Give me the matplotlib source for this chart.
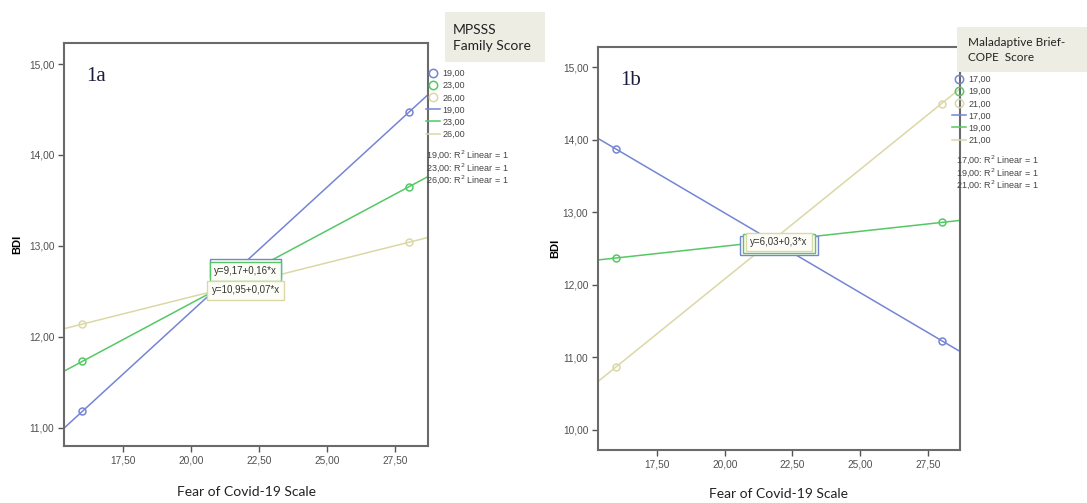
import numpy as np
import matplotlib
matplotlib.use("Agg")
import matplotlib.pyplot as plt
from matplotlib.lines import Line2D
from matplotlib.patches import Rectangle

#%% data

# Fear of Covid-19 Scale values where the estimated points sit
fcv_x = [16, 28]

# panel 1a: BDI by MPSSS family score group
mpsss_groups = ['19,00', '23,00', '26,00']
mpsss_19 = [11.18, 14.47]
mpsss_23 = [11.73, 13.65]
mpsss_26 = [12.14, 13.04]
mpsss_eq = ['y=9,17+0,16*x', 'y=9,17+0,16*x', 'y=10,95+0,07*x']

# panel 1b: BDI by maladaptive Brief-COPE score group
cope_groups = ['17,00', '19,00', '21,00']
cope_17 = [13.87, 11.23]
cope_19 = [12.37, 12.86]
cope_21 = [10.87, 14.50]
cope_eq = ['  y=6,03+0,3*x  ', ' y=6,03+0,3*x ', 'y=6,03+0,3*x']

x_ticks = [17.5, 20.0, 22.5, 25.0, 27.5]
left_yticks = [11, 12, 13, 14, 15]
right_yticks = [10, 11, 12, 13, 14, 15]

colors = ['#7585d4', '#55c865', '#dcd7a6']
tick_font = 'Liberation Sans'


def fmt(v, nd=2):
    return ('%.*f' % (nd, v)).replace('.', ',')


def draw_panel(ax, series, groups, eqs, eq_pos, eq_dy, xlim, ylim, yticks, tag, lab_xy):
    ax.set_xlim(xlim)
    ax.set_ylim(ylim)
    xs = np.array(xlim)
    for i, vals in enumerate(series):
        b, a = np.polyfit(fcv_x, vals, 1)
        ax.plot(xs, a + b * xs, color=colors[i], lw=1.1, zorder=2)
        ax.plot(fcv_x, vals, 'o', mfc='none', mec=colors[i], ms=5, mew=1.1, zorder=3)
    for i, txt in enumerate(eqs):
        ax.text(eq_pos[0], eq_pos[1] + eq_dy[i], txt, fontsize=7, family=tick_font,
                color='#333333', ha='center', va='center', zorder=5 + i,
                bbox=dict(boxstyle='square,pad=0.45', fc='#fdfdf8', ec=colors[i], lw=1))
    ax.set_xticks(x_ticks)
    ax.set_xticklabels([fmt(v) for v in x_ticks])
    ax.set_yticks(yticks)
    ax.set_yticklabels([fmt(v) for v in yticks])
    ax.tick_params(direction='out', length=4, width=1, color='#555555',
                   labelsize=7.3, labelcolor='#505050', pad=3)
    for lab in ax.get_xticklabels() + ax.get_yticklabels():
        lab.set_family(tick_font)
    for sp in ax.spines.values():
        sp.set_color('#6a6a6a')
        sp.set_linewidth(1.5)
    ax.set_ylabel('BDI', fontsize=8, fontweight='bold', family=tick_font)
    ax.set_xlabel('Fear of Covid-19 Scale', fontsize=10, family='Lato', color='#222222')
    ax.yaxis.set_label_coords(lab_xy[0], 0.5)
    ax.xaxis.set_label_coords(0.5, lab_xy[1])
    ax.xaxis.label.set_va('center')
    ax.yaxis.label.set_va('center')
    ax.text(0.06, 0.905, tag, transform=ax.transAxes, fontsize=15,
            family='Liberation Serif', color='#1c1c3c')

    # legend: open circles then lines
    handles = [Line2D([], [], ls='none', marker='o', mfc='none', mec=c, ms=6, mew=1.1)
               for c in colors]
    handles += [Line2D([], [], color=c, lw=1.1) for c in colors]
    labels = groups + groups
    return handles, labels


fig = plt.figure(figsize=(10.87, 5.03), dpi=100)
ax1 = fig.add_axes([0.0589, 0.1133, 0.335, 0.801])
ax2 = fig.add_axes([0.5501, 0.1054, 0.333, 0.801])

h1, l1 = draw_panel(ax1, [mpsss_19, mpsss_23, mpsss_26], mpsss_groups, mpsss_eq,
                    (22.0, 12.72), [0.035, 0.0, -0.21], (15.33, 28.71), (10.8, 15.23),
                    left_yticks, '1a', (-0.129, -0.114))
h2, l2 = draw_panel(ax2, [cope_17, cope_19, cope_21], cope_groups, cope_eq,
                    (22.0, 12.59), [-0.05, -0.025, 0.0], (15.32, 28.68), (9.72, 15.28),
                    right_yticks, '1b', (-0.119, -0.109))

leg_kw = dict(frameon=False, handlelength=1.6, handletextpad=0.25,
              borderaxespad=0, borderpad=0, labelcolor='#444444', labelspacing=0.35,
              prop={'family': tick_font, 'size': 6.5})
fig.legend(h1, l1, loc='upper left', bbox_to_anchor=(426 / 1087, 1 - 69 / 503), **leg_kw)
fig.legend(h2, l2, loc='upper left', bbox_to_anchor=(952 / 1087, 1 - 75 / 503), **leg_kw)

# R2 lines under the legends
for i, g in enumerate(mpsss_groups):
    fig.text(426 / 1087, 1 - (155 + 12.3 * i) / 503, g + ': R$^2$ Linear = 1',
             fontsize=6.5, family=tick_font, color='#444444', va='center')
for i, g in enumerate(cope_groups):
    fig.text(956 / 1087, 1 - (160 + 12.3 * i) / 503, g + ': R$^2$ Linear = 1',
             fontsize=6.5, family=tick_font, color='#444444', va='center')

# legend title boxes
fig.add_artist(Rectangle((445 / 1087, 1 - 62 / 503), 100 / 1087, 50 / 503,
                         transform=fig.transFigure, fc='#eeede3', ec='none'))
fig.text(453 / 1087, 1 - 38 / 503, 'MPSSS\nFamily Score', fontsize=10, family='Lato',
         color='#222222', va='center', linespacing=1.45)
fig.add_artist(Rectangle((957 / 1087, 1 - 72 / 503), 130 / 1087, 45 / 503,
                         transform=fig.transFigure, fc='#eeede3', ec='none'))
fig.text(968 / 1087, 1 - 50 / 503, 'Maladaptive Brief-\nCOPE  Score', fontsize=8.5,
         family='Lato', color='#222222', va='center', linespacing=1.55)

fig.savefig('out.png', dpi=100)
